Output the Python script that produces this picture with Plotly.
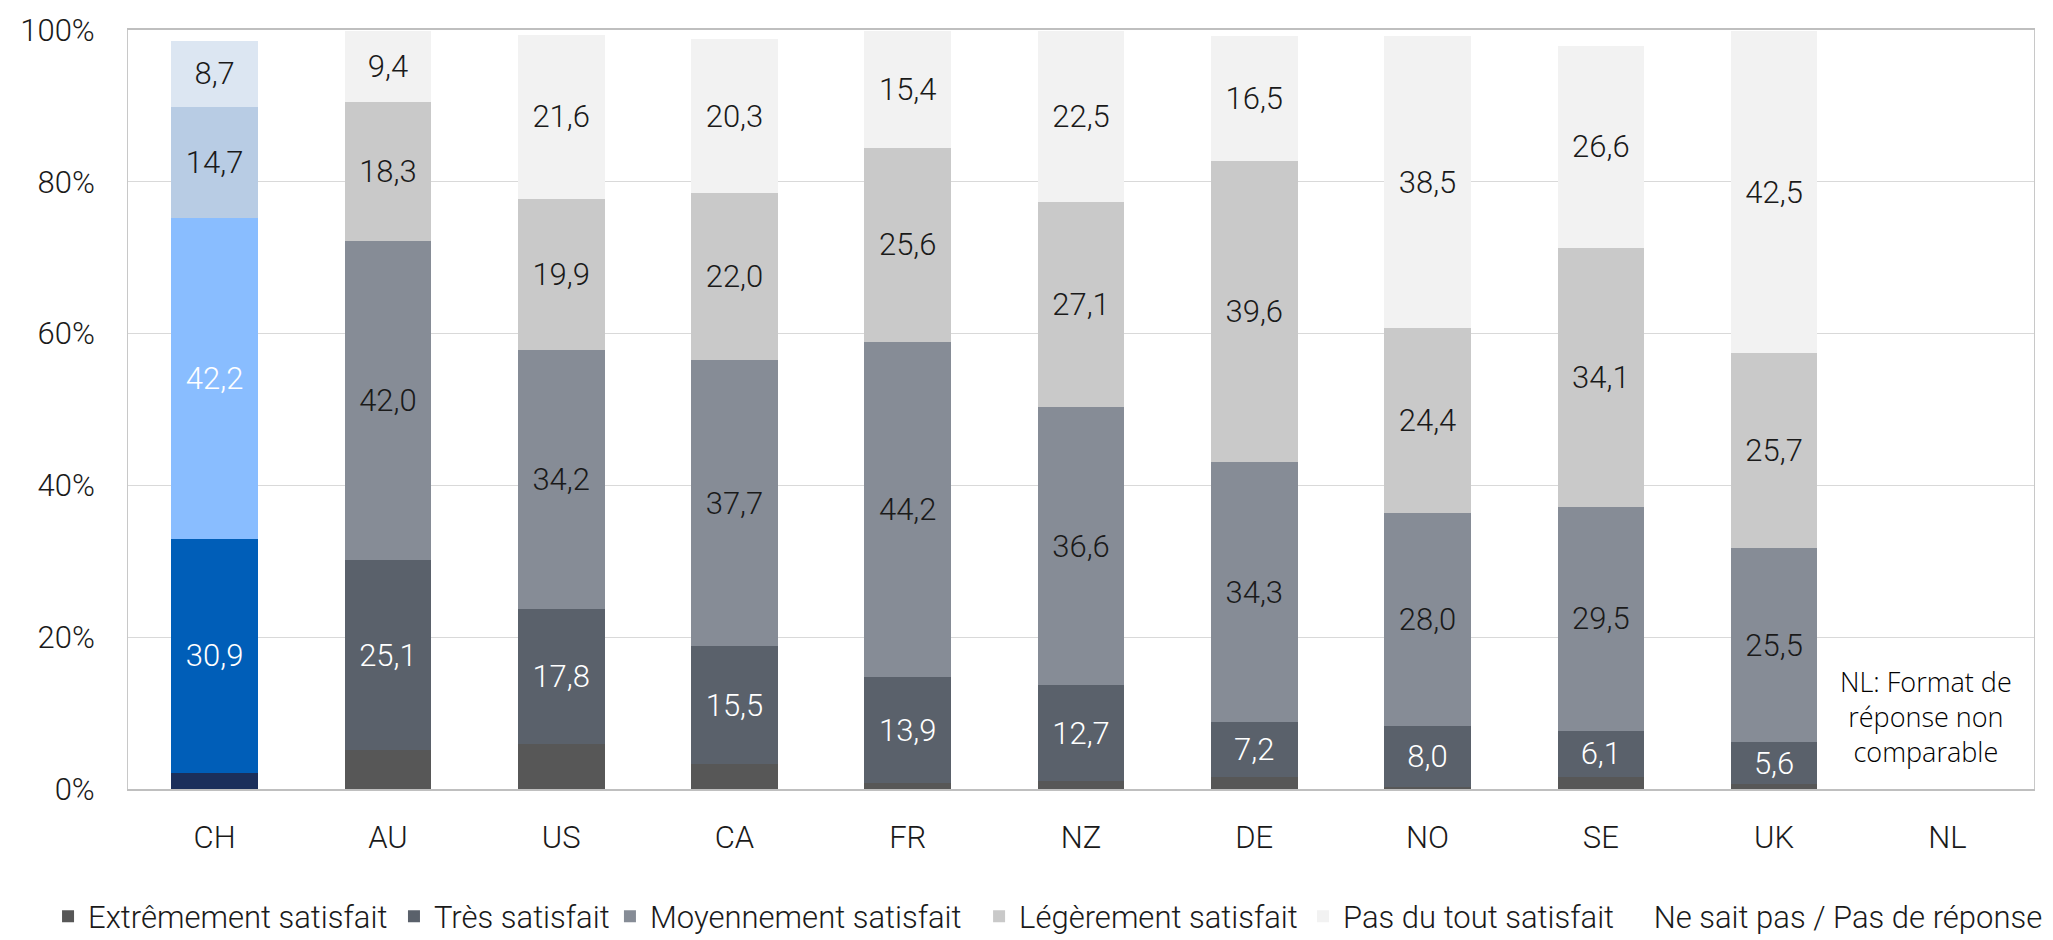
import plotly.graph_objects as go

countries = ["CH", "AU", "US", "CA", "FR", "NZ", "DE", "NO", "SE", "UK", "NL"]
extremement = [2.1, 5.1, 5.9, 3.3, 0.8, 1.0, 1.6, 0.3, 1.6, 0.6, None]
tres = [30.9, 25.1, 17.8, 15.5, 13.9, 12.7, 7.2, 8.0, 6.1, 5.6, None]
moyennement = [42.2, 42.0, 34.2, 37.7, 44.2, 36.6, 34.3, 28.0, 29.5, 25.5, None]
legerement = [14.7, 18.3, 19.9, 22.0, 25.6, 27.1, 39.6, 24.4, 34.1, 25.7, None]
pas_du_tout = [8.7, 9.4, 21.6, 20.3, 15.4, 22.5, 16.5, 38.5, 26.6, 42.5, None]
ne_sait_pas = [1.3, 0.1, 0.6, 1.2, 0.1, 0.1, 0.8, 0.8, 2.1, 0.1, None]
y_ticks = [0, 20, 40, 60, 80, 100]
y_ticklabels = ["0%", "20%", "40%", "60%", "80%", "100%"]

series_names = ["Extrêmement satisfait", "Très satisfait", "Moyennement satisfait",
                "Légèrement satisfait", "Pas du tout satisfait", "Ne sait pas / Pas de réponse"]
grey_colors = ["#575757", "#5A616B", "#868C96", "#C9C9C9", "#F2F2F2", "#FFFFFF"]
ch_colors = ["#1B2F5B", "#005EB8", "#89BDFF", "#B8CCE4", "#DCE6F2", "#FFFFFF"]
LABEL_DARK = "#1a1a1a"
ch_label_colors = [None, "#FFFFFF", "#FFFFFF", LABEL_DARK, LABEL_DARK, None]
grey_label_colors = [None, "#FFFFFF", LABEL_DARK, LABEL_DARK, LABEL_DARK, None]
show_text = [False, True, True, True, True, False]
all_values = [extremement, tres, moyennement, legerement, pas_du_tout, ne_sait_pas]
# horizontal position (container fraction) of each legend entry
legend_x = [0.0234, 0.1919, 0.2971, 0.4769, 0.6347, 0.7860]

FONT = "Roboto"
FS = 31
fig = go.Figure()
legend_ids = ["legend"] + [f"legend{k}" for k in range(2, 7)]
for i, (name, vals) in enumerate(zip(series_names, all_values)):
    for group in ("ch", "rest"):
        if group == "ch":
            xs, ys = countries[:1], vals[:1]
            color, lcol, showleg = ch_colors[i], ch_label_colors[i], False
        else:
            xs, ys = countries[1:], vals[1:]
            color, lcol, showleg = grey_colors[i], grey_label_colors[i], True
        kw = {}
        if show_text[i]:
            kw = dict(
                texttemplate="%{y:.1f}",
                textposition="inside",
                insidetextanchor="middle",
                textangle=0,
                constraintext="none",
                textfont=dict(family=FONT, size=FS, color=lcol, weight=300),
            )
        fig.add_trace(go.Bar(
            x=xs, y=ys, name=name, legendgroup=name, legend=legend_ids[i],
            marker=dict(color=color, line=dict(width=0)),
            showlegend=showleg,
            hoverinfo="skip",
            **kw,
        ))

fig.add_annotation(
    x="NL", y=9.5, xref="x", yref="y", xshift=-21,
    text="NL: Format de<br>réponse non<br>comparable",
    showarrow=False, align="center",
    font=dict(family="Open Sans", size=27, color="#000000"),
)

legend_style = dict(
    orientation="h", xref="container", yref="container",
    y=0.025, xanchor="left", yanchor="middle",
    font=dict(family=FONT, size=FS, color=LABEL_DARK, weight=300),
    itemwidth=30, bgcolor="rgba(0,0,0,0)",
)
legends = {lid: dict(legend_style, x=lx) for lid, lx in zip(legend_ids, legend_x)}

fig.update_layout(
    barmode="stack",
    bargap=0.5,
    separators=", ",
    width=2053, height=940,
    margin=dict(l=128, r=19, t=26, b=151),
    plot_bgcolor="white", paper_bgcolor="white",
    font=dict(family=FONT, size=FS, color=LABEL_DARK, weight=300),
    xaxis=dict(
        showline=True, linecolor="#BFBFBF", linewidth=2, mirror=True,
        ticks="", tickfont=dict(size=FS), ticklabelstandoff=20,
    ),
    yaxis=dict(
        range=[0, 100], tickvals=y_ticks, ticktext=y_ticklabels,
        showgrid=True, gridcolor="#D9D9D9", gridwidth=1,
        showline=True, linecolor="#C8C8C8", linewidth=1, mirror=True,
        zeroline=False, ticks="", ticklabelstandoff=26,
        tickfont=dict(size=FS),
    ),
    **legends,
)

fig.write_html("out.html", config={"displayModeBar": False},
               post_script="document.body.style.margin='0';")
